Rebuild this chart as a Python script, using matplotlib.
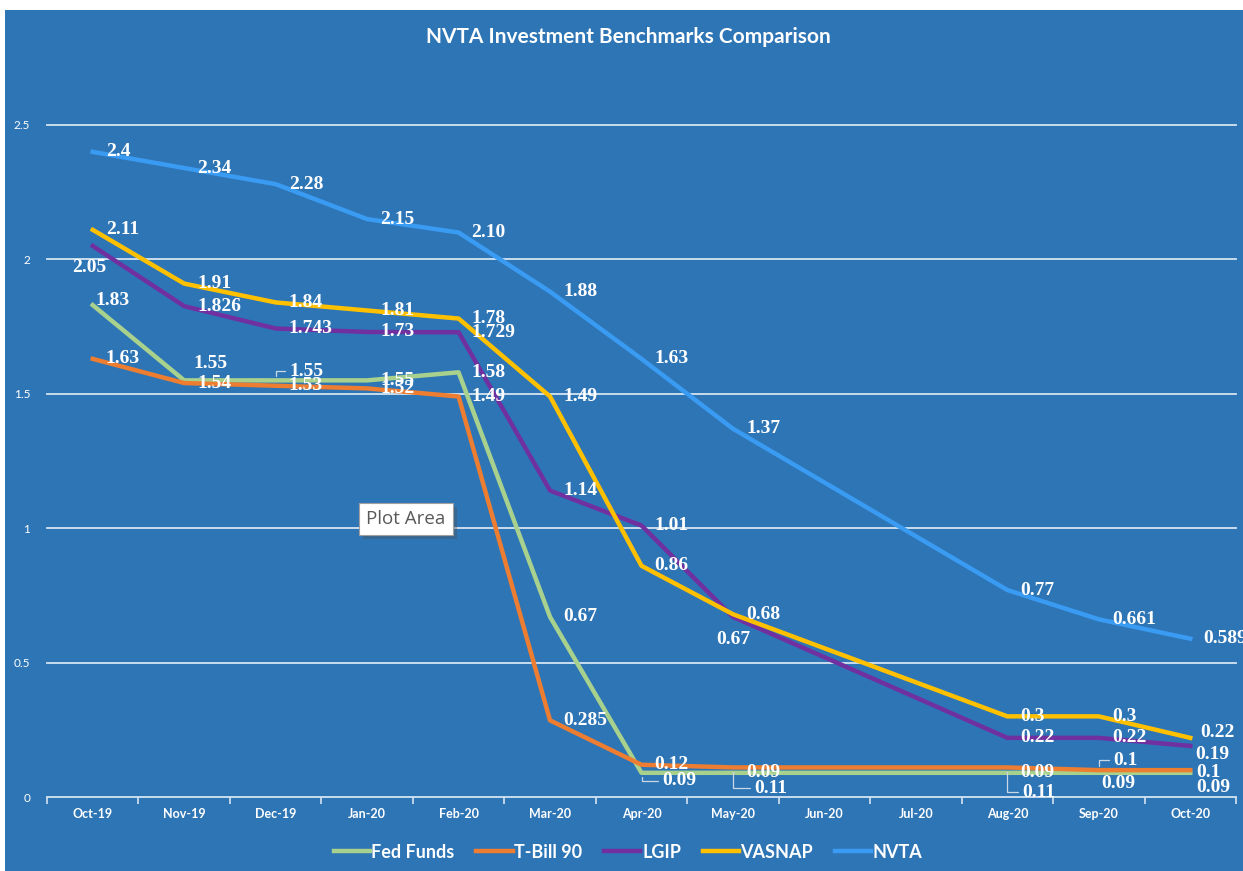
import matplotlib
matplotlib.use("Agg")
import matplotlib.pyplot as plt
import matplotlib.patheffects as pe
from matplotlib.patches import Rectangle
import numpy as np

months = ["Oct-19", "Nov-19", "Dec-19", "Jan-20", "Feb-20", "Mar-20", "Apr-20",
          "May-20", "Jun-20", "Jul-20", "Aug-20", "Sep-20", "Oct-20"]

# None = no value for that month (Jun/Jul), line just goes across
fed_funds = [1.83, 1.55, 1.55, 1.55, 1.58, 0.67, 0.09, 0.09, None, None, 0.09, 0.09, 0.09]
tbill_90 = [1.63, 1.54, 1.53, 1.52, 1.49, 0.285, 0.12, 0.11, None, None, 0.11, 0.1, 0.1]
lgip = [2.05, 1.826, 1.743, 1.73, 1.729, 1.14, 1.01, 0.67, None, None, 0.22, 0.22, 0.19]
vasnap = [2.11, 1.91, 1.84, 1.81, 1.78, 1.49, 0.86, 0.68, None, None, 0.3, 0.3, 0.22]
nvta = [2.4, 2.34, 2.28, 2.15, 2.10, 1.88, 1.63, 1.37, None, None, 0.77, 0.661, 0.589]

series_names = ["Fed Funds", "T-Bill 90", "LGIP", "VASNAP", "NVTA"]
series_vals = [fed_funds, tbill_90, lgip, vasnap, nvta]
colors = ["#A9D18E", "#ED7D31", "#7030A0", "#FFC000", "#3A9BF2"]

text_override = {("NVTA", 4): "2.10"}

# label offsets in pixels (dx to label anchor, dy downwards), ha
default_off = (13, 0, "left")
label_off = {
    ("LGIP", 0): (-3, 22, "center"),
    ("LGIP", 7): (0, 23, "center"),
    ("LGIP", 12): (5, 9, "left"),
    ("Fed Funds", 0): (3, -5, "left"),
    ("Fed Funds", 1): (9, -17, "left"),
    ("Fed Funds", 2): (14, -9, "left"),
    ("Fed Funds", 6): (21, 8, "left"),
    ("Fed Funds", 11): (2, 11, "left"),
    ("Fed Funds", 12): (6, 15, "left"),
    ("T-Bill 90", 7): (21, 21, "left"),
    ("T-Bill 90", 10): (15, 25, "left"),
    ("T-Bill 90", 11): (14, -10, "left"),
    ("T-Bill 90", 12): (6, 2, "left"),
    ("VASNAP", 12): (10, -5, "left"),
}
leaders = {("Fed Funds", 2), ("Fed Funds", 6), ("T-Bill 90", 7),
           ("T-Bill 90", 10), ("T-Bill 90", 11)}

bg = "#2E75B6"
grid_c = "#D6E4F2"

W, H = 1243, 871
fig = plt.figure(figsize=(W / 100, H / 100), dpi=100, facecolor="white")
fig.patches.append(Rectangle((5 / W, 0), 1 - 5 / W, 1 - 10 / H, transform=fig.transFigure,
                             facecolor=bg, edgecolor="none", zorder=-5))

ax = fig.add_axes([47 / W, (H - 797) / H, 1189 / W, 672 / H])
ax.set_facecolor(bg)
ax.set_xlim(-0.5, 12.5)
ax.set_ylim(0, 2.5)

for y in [0.5, 1, 1.5, 2, 2.5]:
    ax.axhline(y, color=grid_c, lw=1.3, zorder=1, clip_on=False)

for s in ["top", "right", "left"]:
    ax.spines[s].set_visible(False)
ax.spines["bottom"].set_color(grid_c)
ax.spines["bottom"].set_linewidth(1.3)

ax.set_xticks(range(len(months)))
ax.set_xticklabels(months, family="Lato", fontweight="bold", fontsize=9, color="white")
ax.set_xticks(np.arange(-0.5, 13, 1), minor=True)
ax.tick_params(axis="x", which="major", length=0, pad=8)
ax.tick_params(axis="x", which="minor", length=5, width=1.2, color=grid_c)
ax.set_yticks([0, 0.5, 1, 1.5, 2, 2.5])
ax.set_yticklabels(["0", "0.5", "1", "1.5", "2", "2.5"], family="Lato", fontsize=8.5, color="white")
ax.tick_params(axis="y", length=0, pad=12)

for k, (name, vals, c) in enumerate(zip(series_names, series_vals, colors)):
    idx = [i for i, v in enumerate(vals) if v is not None]
    ys = [vals[i] for i in idx]
    ax.plot(idx, ys, color=c, lw=3.2, solid_joinstyle="round", label=name, zorder=3 + k)

for name, vals in zip(series_names, series_vals):
    for i, v in enumerate(vals):
        if v is None:
            continue
        dx, dy, ha = label_off.get((name, i), default_off)
        txt = text_override.get((name, i), f"{v:g}")
        kw = {}
        if (name, i) in leaders:
            kw["arrowprops"] = dict(arrowstyle="-", connectionstyle="angle,angleA=0,angleB=90,rad=0",
                                    relpos=(0, 0.5), shrinkA=1, shrinkB=3, color="#C9D7E6", lw=0.9)
        ax.annotate(txt, (i, v), xytext=(dx, -dy), textcoords="offset pixels", ha=ha, va="center",
                    color="white", fontsize=14, fontweight="bold", family="Liberation Serif",
                    zorder=10, annotation_clip=False, **kw)

fig.text(628 / W, 1 - 37 / H, "NVTA Investment Benchmarks Comparison", ha="center", va="center",
         family="Lato", fontweight="bold", fontsize=15, color="white")

leg = fig.legend(loc="center", bbox_to_anchor=(628 / W, 1 - 852 / H), ncol=5, frameon=False,
                 handlelength=2.0, handletextpad=0.1, columnspacing=1.2,
                 prop={"family": "Lato", "weight": "bold", "size": 13})
for t in leg.get_texts():
    t.set_color("white")

tip = fig.text(406 / W, 1 - 519 / H, "Plot Area", ha="center", va="center", family="Open Sans",
               fontsize=13.5, color="#595959",
               bbox=dict(boxstyle="square,pad=0.38", facecolor="white", edgecolor="#A0A0A0", lw=0.8))
tip.get_bbox_patch().set_path_effects([pe.withSimplePatchShadow(offset=(3, -3), alpha=0.35)])

fig.savefig("out.png", dpi=100, facecolor=fig.get_facecolor())
